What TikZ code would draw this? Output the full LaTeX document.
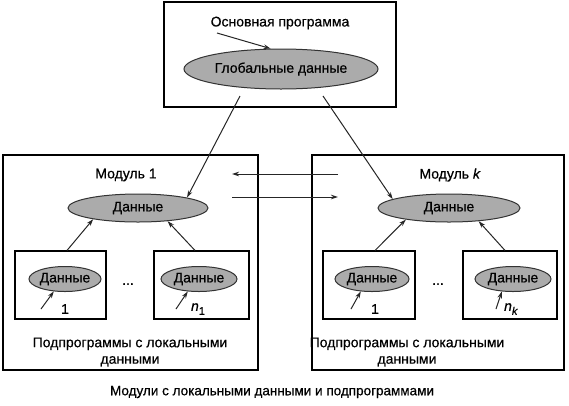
\documentclass[tikz,border=0pt]{standalone}
\usepackage{fontspec}
\setmainfont{Liberation Sans}[FakeBold=0.5]
\usetikzlibrary{shapes.geometric,arrows.meta,calc}
\newcommand{\subidx}[1]{\textit{n}\raisebox{-4pt}{\fontsize{11}{11}\selectfont #1}}
\begin{document}
\begin{tikzpicture}[x=1pt,y=-1pt,
  every node/.style={font=\fontsize{14}{16.5}\selectfont, inner sep=0pt},
  box/.style={draw=black, line width=1.1pt, fill=white},
  dat/.style={ellipse, draw=black!80, line width=1pt, fill=black!33},
  arr/.style={draw=black!85, line width=1pt, -{Stealth[length=7pt,width=4.5pt]}},
  lbl/.style={align=center}
]
\useasboundingbox (0,0) rectangle (569,405);
\fill[white] (0,0) rectangle (569,405);

% main program
\node[box, minimum width=232, minimum height=105] (main) at (280,54.5) {};
\node (mainlbl) at (280,23) {Основная программа};
\node[dat, minimum width=194, minimum height=40] (glob) at (281,69) {Глобальные данные};
\coordinate (mstart) at (217,33);
\draw[arr] (mstart) -- (glob.117);

% module 1
\node[box, minimum width=255, minimum height=215] (mod1) at (130.5,262.5) {};
\node (mod1lbl) at (126,175) {Модуль 1};
\node[dat, minimum width=140, minimum height=28] (d1) at (138,208) {Данные};
\node[box, minimum width=91, minimum height=68] (s11) at (60.5,285) {};
\node[box, minimum width=95, minimum height=68] (s12) at (201.5,285) {};
\node[dat, minimum width=72, minimum height=25] (e11) at (65,279) {Данные};
\node[dat, minimum width=76, minimum height=25] (e12) at (199,279) {Данные};
\node (l11) at (65,309) {1};
\node (l12) at (198,309) {\subidx{1}};
\node (dots1) at (128,284) {...};
\node[lbl] (sub1) at (130,352) {Подпрограммы с локальными\\данными};
\coordinate (a11) at (41,309);
\coordinate (a12) at (176,309);
\draw[arr] (a11) -- (e11.228);
\draw[arr] (a12) -- (e12.228);
\draw[arr] ($(s11.north)+(6.5,0)$) -- (d1.194);
\draw[arr] ($(s12.north)+(-6.5,0)$) -- (d1.336);

% module k
\node[box, minimum width=252, minimum height=215] (mod2) at (438,262.5) {};
\node (mod2lbl) at (450,175) {Модуль \textit{k}};
\node[dat, minimum width=142, minimum height=28] (d2) at (449,208) {Данные};
\node[box, minimum width=92, minimum height=68] (s21) at (369,285) {};
\node[box, minimum width=94, minimum height=68] (s22) at (510,285) {};
\node[dat, minimum width=74, minimum height=25] (e21) at (372,279) {Данные};
\node[dat, minimum width=76, minimum height=25] (e22) at (513,279) {Данные};
\node (l21) at (375,309) {1};
\node (l22) at (511,309) {\subidx{\textit{k}}};
\node (dots2) at (438,284) {...};
\node[lbl] (sub2) at (407,352) {Подпрограммы с локальными\\данными};
\coordinate (a21) at (351,309);
\coordinate (a22) at (496,309);
\draw[arr] (a21) -- (e21.228);
\draw[arr] (a22) -- (e22.228);
\draw[arr] ($(s21.north)+(6,0)$) -- (d2.195);
\draw[arr] ($(s22.north)+(-5,0)$) -- (d2.336);

% global to modules
\coordinate (g1) at (240,96);
\coordinate (g2) at (323,96);
\draw[arr] (g1) -- (d1.12);
\draw[arr] (g2) -- (d2.171);

% between modules
\coordinate (h1a) at (338,174);
\coordinate (h1b) at (232,174);
\coordinate (h2a) at (232,197);
\coordinate (h2b) at (338,197);
\draw[arr] (h1a) -- (h1b);
\draw[arr] (h2a) -- (h2b);

% caption
\node[font=\fontsize{13.5}{16}\selectfont] (cap) at (272,392) {Модули с локальными данными и подпрограммами};
\end{tikzpicture}
\end{document}
